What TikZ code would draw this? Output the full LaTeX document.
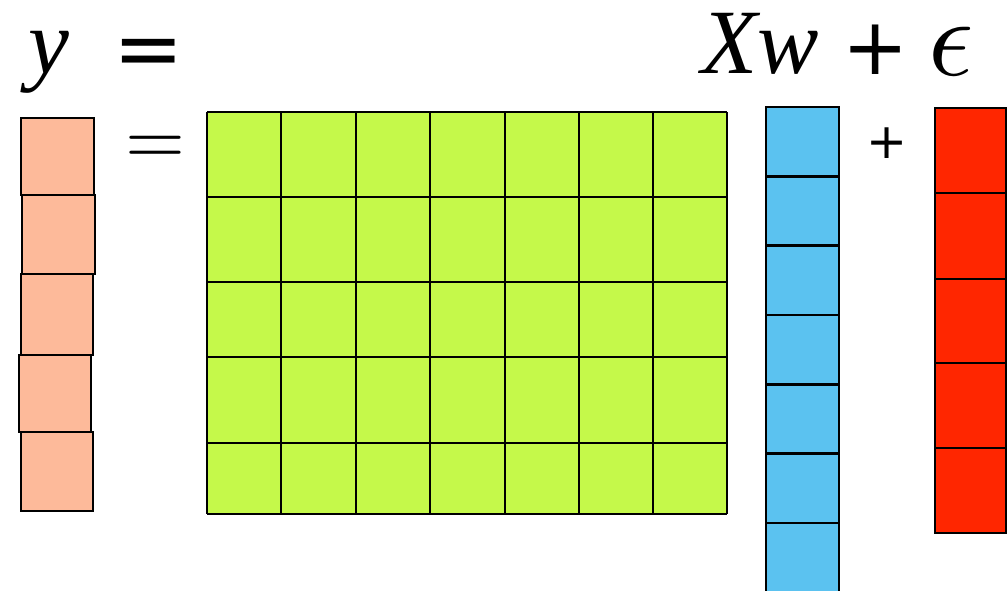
\documentclass[tikz,border=0pt]{standalone}
\usepackage{fontspec}
\usepackage{unicode-math}
\setmainfont{Liberation Serif}
\setmathfont{Latin Modern Math}
\newfontfamily\symsans{DejaVu Sans}
\definecolor{ycol}{RGB}{253,186,154}
\definecolor{xcol}{RGB}{197,249,74}
\definecolor{wcol}{RGB}{91,194,240}
\definecolor{ecol}{RGB}{255,38,0}
\begin{document}
\begin{tikzpicture}[x=1pt,y=-1pt,
  cell/.style={draw=black,line width=2.6pt},
  gridline/.style={draw=black,line width=2.6pt},
  bigtext/.style={inner sep=0pt,font=\fontsize{92}{92}\selectfont},
  symtext/.style={inner sep=0pt,anchor=center}]
\useasboundingbox (0,0) rectangle (1008,590);
\clip (0,0) rectangle (1008,590);
% y column
\draw[cell,fill=ycol] (21,118) rectangle (94,195);
\draw[cell,fill=ycol] (22,195) rectangle (95,274);
\draw[cell,fill=ycol] (21,274) rectangle (93,355);
\draw[cell,fill=ycol] (19,355) rectangle (91,432);
\draw[cell,fill=ycol] (21,432) rectangle (93,511);
% X matrix
\fill[xcol] (207,112) rectangle (727,514);
\foreach \x in {207,281,356,430,505,579,653,727}
  \draw[gridline] (\x,112) -- (\x,514);
\foreach \y in {112,197,282,357,443,514}
  \draw[gridline] (207,\y) -- (727,\y);
% w column
\foreach \t in {107,176.3,245.6,314.9,384.2,453.5,522.8}
  \draw[cell,fill=wcol] (766,\t) rectangle (839,\t+69.3);
% epsilon column
\foreach \t/\b in {108/193,193/279,279/363,363/448,448/533}
  \draw[cell,fill=ecol] (935,\t) rectangle (1006,\b);
% equation text
\node[bigtext,anchor=base west,font=\fontsize{92}{92}\selectfont\itshape] (ty) at (28,73) {y};
\node[symtext,font=\fontsize{84}{84}\selectfont\symsans] (teq) at (148.5,58) {=};
\node[bigtext,anchor=base west,font=\fontsize{92}{92}\selectfont\itshape] (txw) at (701,73) {Xw};
\node[symtext,font=\fontsize{79}{79}\selectfont\symsans] (tplus) at (875.5,49.5) {+};
\node[bigtext,anchor=base west,font=\fontsize{112}{112}\selectfont] (teps) at (928,75) {$\epsilon$};
\node[inner sep=0pt,anchor=base,font=\fontsize{77}{77}\selectfont] (seq) at (155.5,164.3) {$=$};
\node[symtext,font=\fontsize{49}{49}\selectfont\symsans] (splus) at (887.5,143) {+};
\end{tikzpicture}
\end{document}
